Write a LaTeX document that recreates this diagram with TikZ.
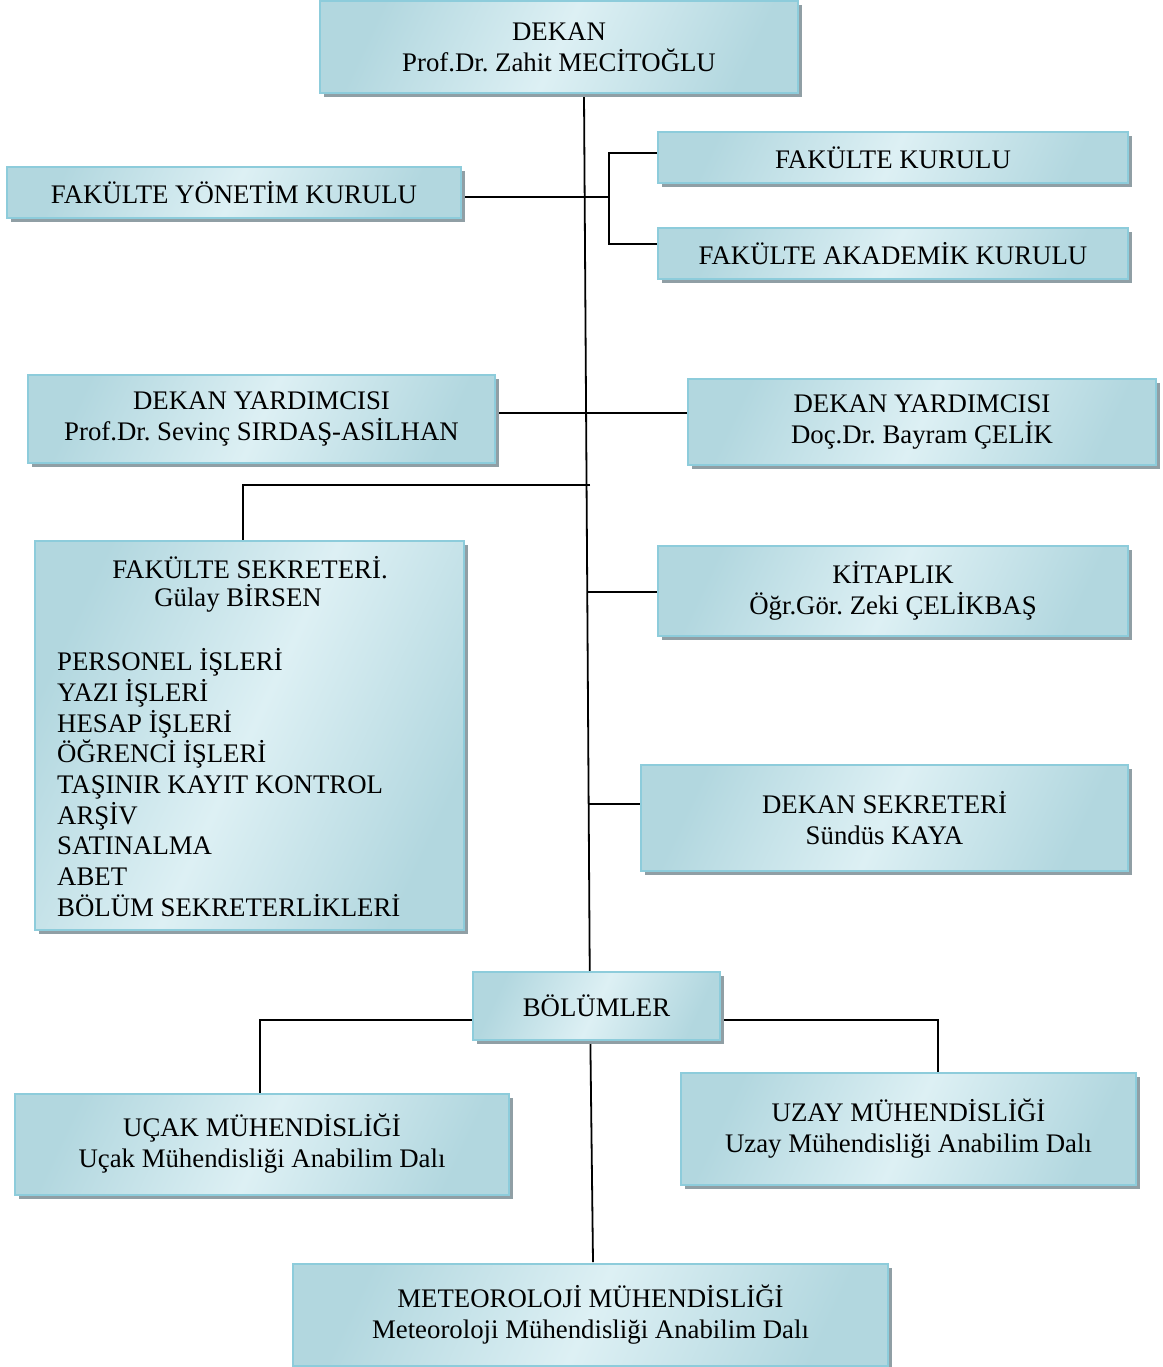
\documentclass[tikz,border=0pt]{standalone}
\usepackage{fontspec}
\setmainfont{Liberation Serif}
\usetikzlibrary{shadows,backgrounds}
\definecolor{boxfill}{HTML}{B2D7DF}
\definecolor{boxlight}{HTML}{DDF0F4}
\definecolor{boxedge}{HTML}{8DCCDB}
\definecolor{shadowgray}{HTML}{909FA5}
\tikzset{
  orgbox/.style={rectangle, draw=boxedge, line width=2pt,
    top color=boxfill, bottom color=boxfill, middle color=boxlight, shading angle=65,
    drop shadow={shadow xshift=4pt, shadow yshift=-4pt, fill=shadowgray, opacity=1},
    inner sep=0pt, align=center, font=\fontsize{26.8}{31}\selectfont},
  plaintext/.style={inner sep=0pt, font=\fontsize{26.8}{30.7}\selectfont},
  link/.style={draw=black, line width=1.8pt},
}
\frenchspacing
\begin{document}
\begin{tikzpicture}[x=1pt,y=-1pt]
\useasboundingbox (0,0) rectangle (1162,1367);
\node[orgbox, minimum width=478, minimum height=92] (dekan) at (559,47) {DEKAN\\Prof.Dr. Zahit MECİTOĞLU};
\node[orgbox, minimum width=454, minimum height=51] (fyk) at (234,192.5) {FAKÜLTE YÖNETİM KURULU};
\node[orgbox, minimum width=470, minimum height=51] (fk) at (893,157.5) {FAKÜLTE KURULU};
\node[orgbox, minimum width=470, minimum height=51] (fak) at (893,253.5) {FAKÜLTE AKADEMİK KURULU};
\node[orgbox, minimum width=467, minimum height=88] (dyl) at (261.5,419) {DEKAN YARDIMCISI\\Prof.Dr. Sevinç SIRDAŞ-ASİLHAN};
\node[orgbox, minimum width=468, minimum height=86] (dyr) at (922,422) {DEKAN YARDIMCISI\\Doç.Dr. Bayram ÇELİK};
\node[orgbox, minimum width=429, minimum height=389] (fs) at (249.5,735.5) {};
\node[plaintext] (fst) at (250,568) {FAKÜLTE SEKRETERİ.};
\node[plaintext] (fsn) at (238,598) {Gülay BİRSEN};
\node[plaintext, anchor=west, align=left] (fsl) at (57,782.5) {PERSONEL İŞLERİ\\YAZI İŞLERİ\\HESAP İŞLERİ\\ÖĞRENCİ İŞLERİ\\TAŞINIR KAYIT KONTROL\\ARŞİV\\SATINALMA\\ABET\\BÖLÜM SEKRETERLİKLERİ};
\node[orgbox, minimum width=470, minimum height=90] (kit) at (893,591) {KİTAPLIK\\Öğr.Gör. Zeki ÇELİKBAŞ};
\node[orgbox, minimum width=487, minimum height=106] (ds) at (884.5,818) {DEKAN SEKRETERİ\\Sündüs KAYA};
\node[orgbox, minimum width=247, minimum height=68] (bol) at (596.5,1006) {BÖLÜMLER};
\node[orgbox, minimum width=494, minimum height=101] (ucak) at (262,1144) {UÇAK MÜHENDİSLİĞİ\\Uçak Mühendisliği Anabilim Dalı};
\node[orgbox, minimum width=455, minimum height=112] (uzay) at (908.5,1129) {UZAY MÜHENDİSLİĞİ\\Uzay Mühendisliği Anabilim Dalı};
\node[orgbox, minimum width=595, minimum height=102] (met) at (590.5,1315) {METEOROLOJİ MÜHENDİSLİĞİ\\Meteoroloji Mühendisliği Anabilim Dalı};
\coordinate (spA) at (584,95);
\coordinate (spB) at (590,1011);
\coordinate (spC) at (593,1262);
\coordinate (brk) at (609,197);
\coordinate (jfs) at (590,485);
\coordinate (jk) at (587,592);
\coordinate (jd) at (588,804);
\coordinate (jb) at (596,1020);
\begin{pgfonlayer}{background}
\draw[link] (spA) -- (spB) -- (spC);
\draw[link] (fyk.east |- brk) -- (brk);
\draw[link] (fk.west |- 0,153) -| (brk) |- (fak.west |- 0,244);
\draw[link] (dyl.east |- 0,413) -- (dyr.west |- 0,413);
\draw[link] (jfs) -| ([xshift=-6.5pt]fs.north);
\draw[link] (jk) -- (kit.west |- jk);
\draw[link] (jd) -- (ds.west |- jd);
\draw[link] (jb) -| ([xshift=-2pt]ucak.north);
\draw[link] (jb) -| ([xshift=29.5pt]uzay.north);
\end{pgfonlayer}
\end{tikzpicture}
\end{document}
